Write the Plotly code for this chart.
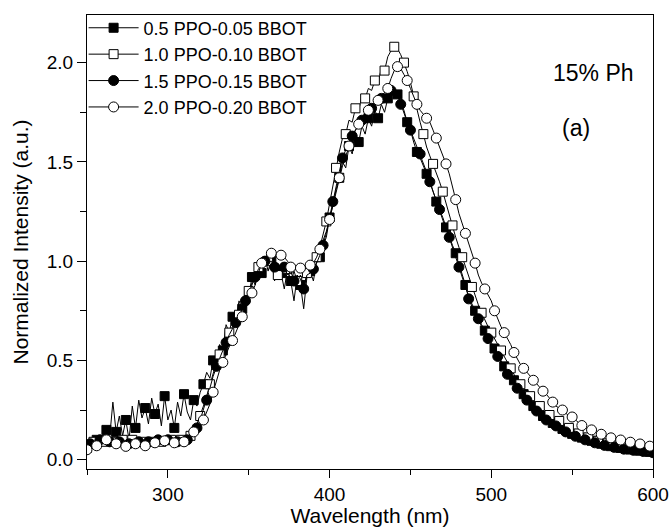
import plotly.graph_objects as go

wavelength = list(range(250, 601, 2))

s1_vals = [
    0.06, 0.09, 0.07, 0.10, 0.08, 0.12, 0.15,
    0.11, 0.29, 0.14, 0.22, 0.12, 0.20, 0.10, 0.27, 0.16,
    0.30, 0.21, 0.26, 0.18, 0.31, 0.23, 0.28, 0.17, 0.32, 0.20,
    0.25, 0.16, 0.29, 0.22, 0.33, 0.24, 0.20, 0.30, 0.27, 0.34,
    0.38, 0.44, 0.41, 0.50, 0.46, 0.58, 0.55, 0.68, 0.64, 0.72,
    0.70, 0.80, 0.76, 0.86, 0.82, 0.92, 0.88, 0.98, 0.94, 1.02,
    0.95, 1.01, 0.90, 0.99, 0.94, 0.86, 0.96, 0.90, 0.80, 0.93,
    0.88, 0.76, 0.92, 0.95, 0.90, 1.00, 1.02, 1.08, 1.12, 1.22,
    1.28, 1.36, 1.42, 1.50, 1.47, 1.58, 1.54, 1.64, 1.60, 1.68,
    1.64, 1.72, 1.68, 1.76, 1.72, 1.79, 1.75, 1.82, 1.84, 1.86,
    1.84, 1.80, 1.76, 1.70, 1.66, 1.60, 1.55, 1.52, 1.48, 1.44,
    1.40, 1.35, 1.30, 1.26, 1.22, 1.17, 1.13, 1.08, 1.04, 0.99,
    0.94, 0.88, 0.82, 0.78, 0.75, 0.72, 0.68, 0.65, 0.62, 0.59,
    0.56, 0.53, 0.50, 0.47, 0.44, 0.42, 0.40, 0.37, 0.35, 0.33,
    0.31, 0.29, 0.27, 0.25, 0.235, 0.22, 0.205, 0.195, 0.185, 0.175,
    0.165, 0.155, 0.145, 0.137, 0.13, 0.123, 0.117, 0.111, 0.105, 0.10,
    0.095, 0.09, 0.085, 0.08, 0.076, 0.072, 0.068, 0.065, 0.062, 0.059,
    0.056, 0.053, 0.051, 0.049, 0.047, 0.045, 0.043, 0.041, 0.039, 0.037,
]

s2_vals = [
    0.07, 0.08, 0.09, 0.09, 0.10, 0.09, 0.10,
    0.10, 0.09, 0.10, 0.09, 0.10, 0.10, 0.09, 0.10, 0.09,
    0.10, 0.09, 0.10, 0.10, 0.09, 0.11, 0.10, 0.09, 0.10, 0.10,
    0.10, 0.09, 0.10, 0.10, 0.11, 0.10, 0.12, 0.14, 0.18, 0.22,
    0.27, 0.32, 0.38, 0.44, 0.49, 0.53, 0.57, 0.61, 0.64, 0.67,
    0.70, 0.73, 0.77, 0.81, 0.85, 0.89, 0.93, 0.97, 0.99, 1.01,
    1.00, 0.96, 0.99, 0.93, 0.98, 0.92, 0.96, 0.89, 0.95, 0.90,
    0.93, 0.86, 0.94, 0.96, 0.99, 1.02, 1.07, 1.13, 1.20, 1.29,
    1.38, 1.47, 1.55, 1.62, 1.64, 1.71, 1.70, 1.77, 1.76, 1.83,
    1.82, 1.87, 1.86, 1.91, 1.90, 1.97, 1.96, 2.03, 2.06, 2.08,
    2.07, 2.04, 2.00, 1.955, 1.90, 1.83, 1.76, 1.70, 1.64, 1.575,
    1.53, 1.49, 1.45, 1.40, 1.35, 1.29, 1.23, 1.18, 1.12, 1.07,
    1.02, 0.97, 0.92, 0.87, 0.82, 0.78, 0.74, 0.70, 0.67, 0.64,
    0.61, 0.58, 0.55, 0.52, 0.49, 0.46, 0.43, 0.40, 0.38, 0.36,
    0.34, 0.32, 0.30, 0.285, 0.27, 0.255, 0.24, 0.225, 0.215, 0.205,
    0.195, 0.185, 0.17, 0.16, 0.15, 0.14, 0.132, 0.125, 0.118, 0.112,
    0.106, 0.10, 0.095, 0.09, 0.086, 0.082, 0.078, 0.074, 0.071, 0.068,
    0.065, 0.062, 0.06, 0.057, 0.055, 0.053, 0.051, 0.049, 0.047, 0.045,
]

s3_vals = [
    0.06, 0.08, 0.09, 0.08, 0.10, 0.09, 0.10,
    0.09, 0.10, 0.08, 0.09, 0.10, 0.09, 0.08, 0.10, 0.09,
    0.09, 0.10, 0.08, 0.09, 0.10, 0.09, 0.10, 0.08, 0.09, 0.10,
    0.09, 0.10, 0.09, 0.10, 0.09, 0.10, 0.11, 0.13, 0.16, 0.20,
    0.25, 0.30, 0.36, 0.42, 0.47, 0.51, 0.55, 0.59, 0.63, 0.66,
    0.69, 0.72, 0.76, 0.80, 0.84, 0.88, 0.92, 0.96, 0.98, 1.00,
    0.99, 1.00, 0.97, 0.98, 0.95, 0.97, 0.93, 0.95, 0.90, 0.93,
    0.91, 0.86, 0.93, 0.94, 0.96, 0.99, 1.03, 1.08, 1.14, 1.22,
    1.30, 1.38, 1.45, 1.52, 1.56, 1.60, 1.63, 1.66, 1.68, 1.71,
    1.73, 1.75, 1.77, 1.79, 1.80, 1.82, 1.83, 1.85, 1.86, 1.87,
    1.84, 1.79, 1.75, 1.70, 1.66, 1.62, 1.58, 1.54, 1.50, 1.45,
    1.40, 1.35, 1.30, 1.26, 1.21, 1.16, 1.12, 1.07, 1.02, 0.97,
    0.91, 0.86, 0.81, 0.77, 0.74, 0.71, 0.67, 0.64, 0.61, 0.58,
    0.55, 0.52, 0.49, 0.46, 0.43, 0.41, 0.38, 0.36, 0.34, 0.32,
    0.30, 0.28, 0.26, 0.245, 0.23, 0.215, 0.20, 0.19, 0.18, 0.17,
    0.16, 0.15, 0.14, 0.132, 0.125, 0.118, 0.112, 0.106, 0.10, 0.095,
    0.09, 0.085, 0.08, 0.076, 0.072, 0.068, 0.065, 0.062, 0.059, 0.056,
    0.053, 0.051, 0.049, 0.047, 0.045, 0.043, 0.041, 0.039, 0.037, 0.035,
]

s4_vals = [
    0.05, 0.06, 0.065, 0.07, 0.08, 0.09, 0.10,
    0.095, 0.09, 0.08, 0.075, 0.07, 0.067, 0.07, 0.075, 0.08,
    0.08, 0.075, 0.07, 0.072, 0.078, 0.085, 0.088, 0.09, 0.095, 0.097,
    0.09, 0.085, 0.08, 0.079, 0.09, 0.11, 0.13, 0.14, 0.155, 0.17,
    0.20, 0.24, 0.28, 0.34, 0.40, 0.45, 0.49, 0.53, 0.57, 0.60,
    0.64, 0.68, 0.72, 0.76, 0.80, 0.84, 0.88, 0.94, 0.99, 1.02,
    1.03, 1.04, 1.04, 1.035, 1.03, 1.02, 1.00, 0.97, 0.96, 0.96,
    0.965, 0.97, 0.975, 0.98, 0.99, 1.02, 1.06, 1.10, 1.15, 1.21,
    1.28, 1.35, 1.42, 1.48, 1.53, 1.58, 1.62, 1.66, 1.69, 1.72,
    1.74, 1.76, 1.78, 1.80, 1.81, 1.83, 1.85, 1.87, 1.92, 1.96,
    1.98, 1.97, 1.94, 1.91, 1.87, 1.83, 1.79, 1.76, 1.74, 1.72,
    1.70, 1.66, 1.62, 1.58, 1.54, 1.49, 1.44, 1.38, 1.31, 1.24,
    1.19, 1.14, 1.10, 1.05, 0.99, 0.93, 0.89, 0.86, 0.83, 0.80,
    0.75, 0.71, 0.67, 0.64, 0.61, 0.58, 0.54, 0.51, 0.48, 0.46,
    0.44, 0.42, 0.40, 0.38, 0.36, 0.345, 0.33, 0.31, 0.29, 0.27,
    0.26, 0.25, 0.235, 0.22, 0.215, 0.20, 0.185, 0.172, 0.162, 0.155,
    0.15, 0.142, 0.135, 0.128, 0.12, 0.115, 0.11, 0.106, 0.102, 0.099,
    0.096, 0.092, 0.088, 0.085, 0.082, 0.079, 0.075, 0.072, 0.068, 0.065,
]

series_names = ["0.5 PPO-0.05 BBOT", "1.0 PPO-0.10 BBOT",
                "1.5 PPO-0.15 BBOT", "2.0 PPO-0.20 BBOT"]
series_vals = [s1_vals, s2_vals, s3_vals, s4_vals]
series_symbols = ["square", "square-open", "circle", "circle-open"]

x_ticks = [300, 400, 500, 600]
y_ticks = [0.0, 0.5, 1.0, 1.5, 2.0]

FONT = "Liberation Sans, Arial, sans-serif"

fig = go.Figure()
for name, vals, sym in zip(series_names, series_vals, series_symbols):
    filled = not sym.endswith("open")
    is_sq = sym.startswith("square")
    fig.add_trace(go.Scatter(
        x=wavelength, y=vals, name=name, mode="lines+markers",
        line=dict(color="black", width=1),
        marker=dict(
            symbol="square" if is_sq else "circle",
            size=9 if is_sq else 10,
            color="black" if filled else "white",
            line=dict(color="black", width=1),
            maxdisplayed=59,
        ),
    ))

fig.add_annotation(x=563.5, y=1.95, text="15% Ph", showarrow=False,
                   font=dict(size=23, color="black", family=FONT))
fig.add_annotation(x=552.5, y=1.67, text="(a)", showarrow=False,
                   font=dict(size=23, color="black", family=FONT))

fig.update_layout(
    width=671, height=527,
    margin=dict(l=87, r=18, t=15, b=58, autoexpand=False),
    paper_bgcolor="white", plot_bgcolor="white",
    font=dict(family=FONT, size=19, color="black"),
    showlegend=True,
    legend=dict(x=-0.006, y=1.012, xanchor="left", yanchor="top",
                bgcolor="rgba(0,0,0,0)", borderwidth=0,
                font=dict(size=18, family=FONT, color="black"),
                itemwidth=50, tracegroupgap=0),
)
fig.update_xaxes(
    range=[250, 600], tickvals=x_ticks, ticks="outside", ticklen=8,
    tickwidth=1, tickcolor="black", showline=True, linecolor="black",
    linewidth=1, mirror=True, showgrid=False, zeroline=False, automargin=False,
    ticklabeloverflow="allow",
    minor=dict(dtick=50, tick0=250, ticks="outside", ticklen=5, tickcolor="black", showgrid=False),
    title=dict(text="Wavelength (nm)", font=dict(size=21), standoff=0),
    tickfont=dict(size=19),
)
fig.update_yaxes(
    range=[-0.047, 2.24], tickvals=y_ticks, tickformat=".1f", ticks="outside", ticklen=9,
    tickwidth=1, tickcolor="black", showline=True, linecolor="black",
    linewidth=1, mirror=True, showgrid=False, zeroline=False, automargin=False,
    minor=dict(dtick=0.25, tick0=0, ticks="outside", ticklen=6, tickcolor="black", showgrid=False),
    title=dict(text="Normalized Intensity (a.u.)", font=dict(size=21), standoff=12),
    tickfont=dict(size=19),
)

fig.write_html(
    "out.html",
    config={"displayModeBar": False},
    post_script="document.body.style.margin='0px';document.body.style.overflow='hidden';",
)
